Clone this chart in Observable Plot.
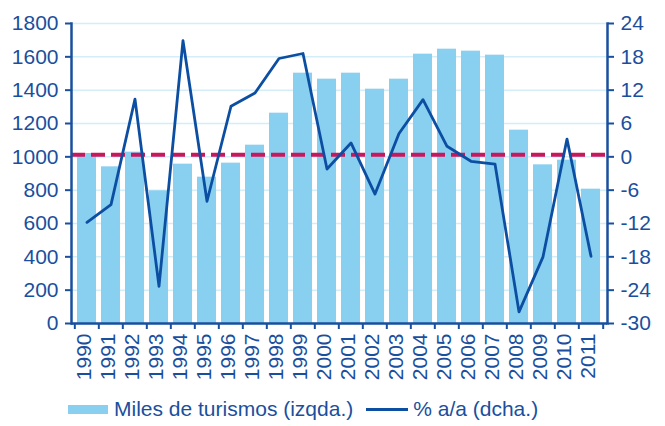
<!DOCTYPE html>
<html><head><meta charset="utf-8">
<script src="https://cdn.jsdelivr.net/npm/d3@7"></script>
<script src="https://cdn.jsdelivr.net/npm/@observablehq/plot@0.6"></script>
<style>
html,body{margin:0;padding:0;background:#fff;}
body{font-family:"Liberation Sans",Arial,sans-serif;width:665px;height:426px;overflow:hidden;}
#legend{display:flex;align-items:center;height:34px;padding-left:68px;color:#1a4f9e;font-size:21px;}
#legend .sw{display:inline-block;}
</style></head><body>
<div id="chart"></div>
<div id="legend">
  <span class="sw" style="width:40px;height:9px;background:#89cff0;margin-right:6px"></span><span>Miles de turismos (izqda.)</span>
  <span class="sw" style="width:42px;height:3px;background:#0c4ea2;margin-left:13px;margin-right:5px"></span><span>% a/a (dcha.)</span>
</div>
<script>
const years = [1990,1991,1992,1993,1994,1995,1996,1997,1998,1999,2000,2001,2002,2003,2004,2005,2006,2007,2008,2009,2010,2011];
const unitsThousands = [1020,940,1028,796,956,878,962,1070,1262,1502,1466,1502,1406,1466,1616,1646,1634,1610,1160,952,980,806];
const yoyPct = [-11.8,-8.6,10.4,-23.3,20.9,-8.0,9.1,11.5,17.7,18.6,-2.2,2.5,-6.7,4.2,10.3,1.9,-0.8,-1.3,-27.9,-18.0,3.2,-17.9];
const leftTicks = [0,200,400,600,800,1000,1200,1400,1600,1800];
const rightTicks = [-30,-24,-18,-12,-6,0,6,12,18,24];
const referenceLine = [0];

const toLeft = d3.scaleLinear([-30,24],[0,1800]);
const data = years.map((y,i)=>({year:String(y), units:unitsThousands[i], yoy:yoyPct[i]}));

const W=665, H=392, mL=71, mR=58, mT=23, mB=69;
const step = (W-mL-mR)/years.length;
const ink = "#1a4f9e";
const fs = 21;

const chart = Plot.plot({
  width:W, height:H, marginLeft:mL, marginRight:mR, marginTop:mT, marginBottom:mB,
  style:{fontFamily:"'Liberation Sans', Arial, sans-serif", fontSize:"21px", color:ink, background:"white", overflow:"visible"},
  x:{domain:years.map(String), paddingInner:0.2, paddingOuter:0.1, label:null},
  y:{domain:[0,1800], label:null},
  marks:[
    Plot.gridY(leftTicks, {stroke:"#d3edf9", strokeOpacity:1, strokeWidth:1.5}),
    Plot.barY(data, {x:"year", y:"units", fill:"#89cff0"}),
    Plot.ruleY(referenceLine.map(toLeft), {stroke:"#c8175d", strokeWidth:4, strokeDasharray:"14,6", dy:-2}),
    Plot.lineY(data, {x:"year", y:d=>toLeft(d.yoy), stroke:"#0c4ea2", strokeWidth:2.8}),
    Plot.ruleY([0], {stroke:ink, strokeWidth:2.5}),
    Plot.frame({anchor:"left", stroke:ink, strokeWidth:2.5}),
    Plot.frame({anchor:"right", stroke:ink, strokeWidth:2.5}),
    Plot.axisY(leftTicks, {anchor:"left", tickSize:6, tickPadding:7, strokeWidth:2, label:null, fontSize:fs,
      tickFormat:d=>String(d)}),
    Plot.axisY(rightTicks.map(toLeft), {anchor:"right", tickSize:6, tickPadding:7, strokeWidth:2, label:null, fontSize:fs,
      tickFormat:d=>String(Math.round(toLeft.invert(d)))}),
    Plot.axisX({tickRotate:-90, tickSize:0, tickPadding:10, label:null, dx:-3, fontSize:fs}),
    Plot.axisX({tickSize:6, tickFormat:()=>"", strokeWidth:2, dx:-step/2, label:null}),
    Plot.axisX(["2011"], {tickSize:6, tickFormat:()=>"", strokeWidth:2, dx:step/2, label:null})
  ]
});
document.getElementById("chart").appendChild(chart);
</script>
</body></html>
